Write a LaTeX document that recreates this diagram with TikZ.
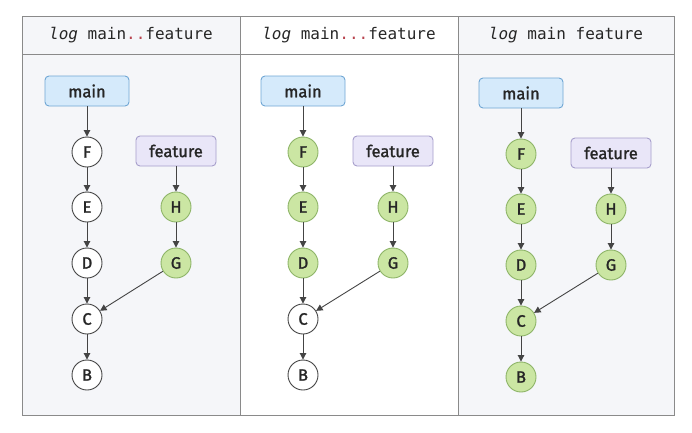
\documentclass[tikz,border=0pt]{standalone}
\usepackage{fontspec}
\setmainfont{Fira Sans}
\setmonofont{DejaVu Sans Mono}
\newfontfamily\labelfont[FakeBold=1.5]{Fira Sans}
\usetikzlibrary{arrows.meta}
\definecolor{panelgray}{HTML}{F5F6F9}
\definecolor{framegray}{HTML}{8A8A8A}
\definecolor{edgegray}{HTML}{444444}
\definecolor{commitgreen}{HTML}{CBE6A3}
\definecolor{commitline}{HTML}{8DB467}
\definecolor{mainblue}{HTML}{D5EAFB}
\definecolor{mainline}{HTML}{6FA6D4}
\definecolor{featlilac}{HTML}{E9E6F8}
\definecolor{featline}{HTML}{A69ECB}
\definecolor{dotred}{HTML}{B8434E}
\begin{document}
\begin{tikzpicture}
  [x=1pt,y=-1pt,>={Triangle[length=6.5pt,width=6.5pt]},
   every node/.style={font=\labelfont\fontsize{16.5}{18}\selectfont,text=black!85},
   commit/.style={circle,draw=edgegray,fill=white,line width=0.9pt,minimum size=30pt,inner sep=0pt},
   picked/.style={commit,draw=commitline,fill=commitgreen},
   mainref/.style={rounded corners=4pt,draw=mainline,fill=mainblue,line width=0.9pt,minimum width=84pt,minimum height=30pt},
   featref/.style={rounded corners=4pt,draw=featline,fill=featlilac,line width=0.9pt,minimum width=80pt,minimum height=30pt},
   head/.style={font=\fontsize{16}{18}\selectfont\ttfamily},
   link/.style={->,draw=edgegray,line width=0.9pt}]
\useasboundingbox (0,0) rectangle (692,432);
% panels
\fill[panelgray] (22,16) rectangle (240,415);
\fill[panelgray] (458,16) rectangle (674,415);
\draw[framegray,line width=0.9pt] (22,16) rectangle (674,415);
\draw[framegray,line width=0.9pt] (22,54) -- (674,54);
\draw[framegray,line width=0.9pt] (240,16) -- (240,415);
\draw[framegray,line width=0.9pt] (458,16) -- (458,415);
\node (t1)[head] at (131,35) {\textit{log} main\textcolor{dotred}{..}feature};
\node (t2)[head] at (349,35) {\textit{log} main\textcolor{dotred}{...}feature};
\node (t3)[head] at (566,35) {\textit{log} main feature};
% main..feature
\node (am)[mainref] at (87,91) {main};
\node (af)[featref] at (176,151) {feature};
\node (aF)[commit] at (87,152) {F};
\node (aE)[commit] at (87,207) {E};
\node (aD)[commit] at (87,263) {D};
\node (aC)[commit] at (87,319) {C};
\node (aB)[commit] at (87,375) {B};
\node (aH)[picked] at (176,207) {H};
\node (aG)[picked] at (176,263) {G};
% main...feature
\node (bm)[mainref] at (303,91) {main};
\node (bf)[featref] at (393,151) {feature};
\node (bF)[picked] at (303,152) {F};
\node (bE)[picked] at (303,207) {E};
\node (bD)[picked] at (303,263) {D};
\node (bC)[commit] at (303,319) {C};
\node (bB)[commit] at (303,375) {B};
\node (bH)[picked] at (393,207) {H};
\node (bG)[picked] at (393,263) {G};
% main feature
\node (cm)[mainref] at (521,93) {main};
\node (cf)[featref] at (611,153) {feature};
\node (cF)[picked] at (521,154) {F};
\node (cE)[picked] at (521,209) {E};
\node (cD)[picked] at (521,265) {D};
\node (cC)[picked] at (521,321) {C};
\node (cB)[picked] at (521,377) {B};
\node (cH)[picked] at (611,209) {H};
\node (cG)[picked] at (611,265) {G};
\foreach \p in {a,b,c}
  \foreach \from/\to in {m/F,F/E,E/D,D/C,C/B,f/H,H/G,G/C}
    \draw[link] (\p\from) -- (\p\to);
\end{tikzpicture}
\end{document}
